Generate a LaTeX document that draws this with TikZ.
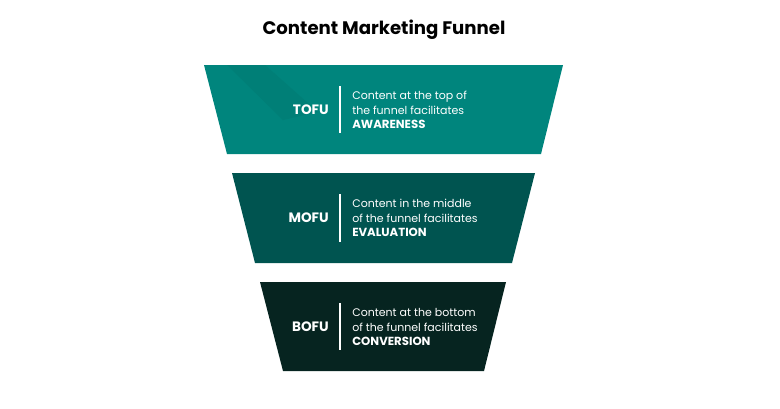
\documentclass[tikz,border=0pt]{standalone}
\usepackage{fontspec}
\setmainfont{Poppins}
\definecolor{tofu}{RGB}{0,133,125}
\definecolor{tofuband}{RGB}{0,127,119}
\definecolor{mofu}{RGB}{0,84,80}
\definecolor{bofu}{RGB}{6,36,32}
\newcommand{\capsb}[1]{{\bfseries\fontsize{8.8}{10.9}\selectfont #1}}
\begin{document}
\begin{tikzpicture}[x=0.75pt,y=-0.75pt,
  lbl/.style={text=white,font=\bfseries\fontsize{10.2}{11}\selectfont,anchor=east,inner sep=0pt},
  desc/.style={text=white,font=\fontsize{8.25}{10.9}\selectfont,anchor=west,align=left,inner sep=0pt},
  divider/.style={draw=white,line width=1pt}]
\useasboundingbox (0,0) rectangle (780,408);
\node[font=\bfseries\fontsize{13.6}{15}\selectfont,inner sep=0pt] (title) at (384,30) {Content Marketing Funnel};
% TOFU
\fill[tofu] (204,65) -- (563,65) -- (541,154) -- (227,154) -- cycle;
\fill[tofuband] (227,65) -- (265,65) -- (318,112) -- (283,120) -- cycle;
% MOFU
\fill[mofu] (232,173) -- (535,173) -- (512,263) -- (255,263) -- cycle;
% BOFU
\fill[bofu] (260,282) -- (506,282) -- (484,371) -- (283,371) -- cycle;
% dividers
\coordinate (d1a) at (340,86); \coordinate (d1b) at (340,133);
\coordinate (d2a) at (340,194); \coordinate (d2b) at (340,242);
\coordinate (d3a) at (340,303); \coordinate (d3b) at (340,350);
\draw[divider] (d1a) -- (d1b);
\draw[divider] (d2a) -- (d2b);
\draw[divider] (d3a) -- (d3b);
% labels
\node[lbl] (tofu) at (329,110) {TOFU};
\node[lbl] (mofu) at (329,218) {MOFU};
\node[lbl] (bofu) at (329,327) {BOFU};
\node[desc] (tofut) at (352,110) {Content at the top of\\the funnel facilitates\\\capsb{AWARENESS}};
\node[desc] (mofut) at (352,218) {Content in the middle\\of the funnel facilitates\\\capsb{EVALUATION}};
\node[desc] (bofut) at (352,327) {Content at the bottom\\of the funnel facilitates\\\capsb{CONVERSION}};
\end{tikzpicture}
\end{document}
